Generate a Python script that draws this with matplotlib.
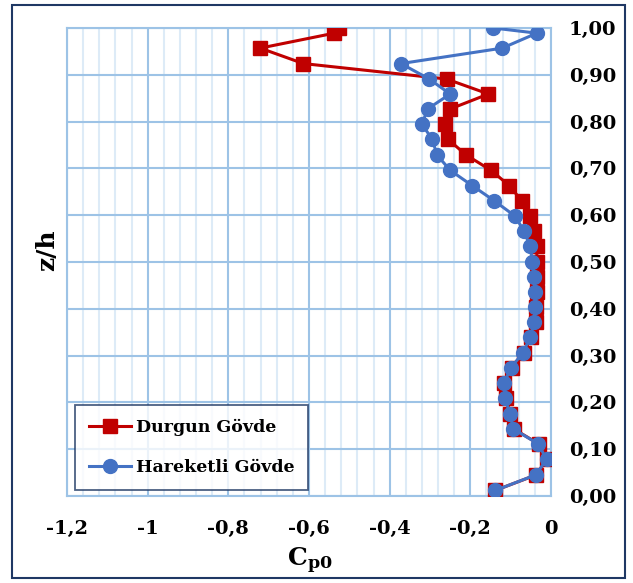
import matplotlib
matplotlib.use("Agg")
import matplotlib.pyplot as plt
from matplotlib.patches import Rectangle
from matplotlib.ticker import MultipleLocator, FixedLocator, FuncFormatter

z_h = [0.012, 0.045, 0.078, 0.111, 0.143, 0.176, 0.209, 0.241, 0.274, 0.306,
       0.339, 0.371, 0.403, 0.436, 0.468, 0.501, 0.534, 0.566, 0.598, 0.631,
       0.663, 0.696, 0.729, 0.762, 0.794, 0.827, 0.859, 0.891, 0.924, 0.957,
       0.989, 1.000]
durgun = [-0.138, -0.037, -0.010, -0.030, -0.092, -0.101, -0.112, -0.116, -0.097, -0.068,
          -0.049, -0.038, -0.036, -0.035, -0.035, -0.035, -0.035, -0.041, -0.052, -0.073,
          -0.103, -0.149, -0.211, -0.255, -0.264, -0.250, -0.155, -0.259, -0.614, -0.721,
          -0.537, -0.525]
hareketli = [-0.138, -0.038, -0.011, -0.031, -0.093, -0.102, -0.114, -0.117, -0.099, -0.070,
             -0.051, -0.042, -0.040, -0.040, -0.042, -0.046, -0.052, -0.067, -0.089, -0.141,
             -0.195, -0.250, -0.283, -0.294, -0.320, -0.306, -0.250, -0.302, -0.372, -0.121,
             -0.035, -0.143]
labels = ["Durgun Gövde", "Hareketli Gövde"]
x_ticks = [-1.2, -1.0, -0.8, -0.6, -0.4, -0.2, 0.0]
y_ticks = [0.0, 0.1, 0.2, 0.3, 0.4, 0.5, 0.6, 0.7, 0.8, 0.9, 1.0]

FONT = "DejaVu Serif"
plt.rcParams["mathtext.fontset"] = "dejavuserif"
W, H = 633, 583
fig = plt.figure(figsize=(W / 100, H / 100), dpi=100)
ax = fig.add_axes([67 / W, 1 - 496 / H, (551 - 67) / W, (496 - 28) / H])

ax.plot(durgun, z_h, color="#C00000", lw=2.2, marker="s", ms=10, label=labels[0], zorder=3)
ax.plot(hareketli, z_h, color="#4472C4", lw=2.2, marker="o", ms=10, label=labels[1], zorder=4)

ax.set_xlim(-1.2, 0)
ax.set_ylim(0, 1)
ax.xaxis.set_major_locator(FixedLocator(x_ticks))
ax.xaxis.set_minor_locator(MultipleLocator(0.04))
ax.yaxis.set_major_locator(FixedLocator(y_ticks))

def xfmt(v, pos):
    s = f"{v:.1f}".rstrip("0").rstrip(".")
    if s in ("-0", "0"):
        return "0"
    return s.replace(".", ",")

ax.xaxis.set_major_formatter(FuncFormatter(xfmt))
ax.yaxis.set_major_formatter(FuncFormatter(lambda v, p: f"{v:.2f}".replace(".", ",")))
ax.yaxis.tick_right()

ax.grid(which="major", color="#9DC3E6", lw=1.5, zorder=0)
ax.grid(which="minor", axis="x", color="#DDEBF7", lw=1.5, zorder=0)
ax.set_axisbelow(True)
for s in ax.spines.values():
    s.set_color("#9DC3E6")
    s.set_linewidth(1.5)

ax.tick_params(which="both", length=0)
ax.tick_params(axis="x", pad=17)
ax.tick_params(axis="y", pad=13)
for t in ax.get_xticklabels() + ax.get_yticklabels():
    t.set_fontfamily(FONT)
    t.set_fontweight("bold")
    t.set_fontsize(14)

fig.text(310 / W, 1 - 561 / H, r"$\mathbf{C}_{\mathbf{p0}}$", ha="center", va="center",
         fontsize=18, fontfamily=FONT)
fig.text(47 / W, 1 - 250 / H, "z/h", rotation=90, ha="center", va="center",
         fontsize=18, fontweight="bold", fontfamily=FONT)

leg = ax.legend(loc="lower left", bbox_to_anchor=(8 / 484, 6 / 468), frameon=True,
                fancybox=False, prop={"family": FONT, "weight": "bold", "size": 12.5},
                handlelength=2.4, labelspacing=1.32, borderpad=0.8,
                handletextpad=0.3, borderaxespad=0)
leg.get_frame().set_edgecolor("#1F3864")
leg.get_frame().set_linewidth(1.3)

fig.patches.append(Rectangle((12 / W, 5 / H), (625 - 12) / W, (578 - 5) / H,
                             transform=fig.transFigure, fill=False,
                             edgecolor="#1F3864", lw=1.5))

fig.savefig("out.png", dpi=100)
